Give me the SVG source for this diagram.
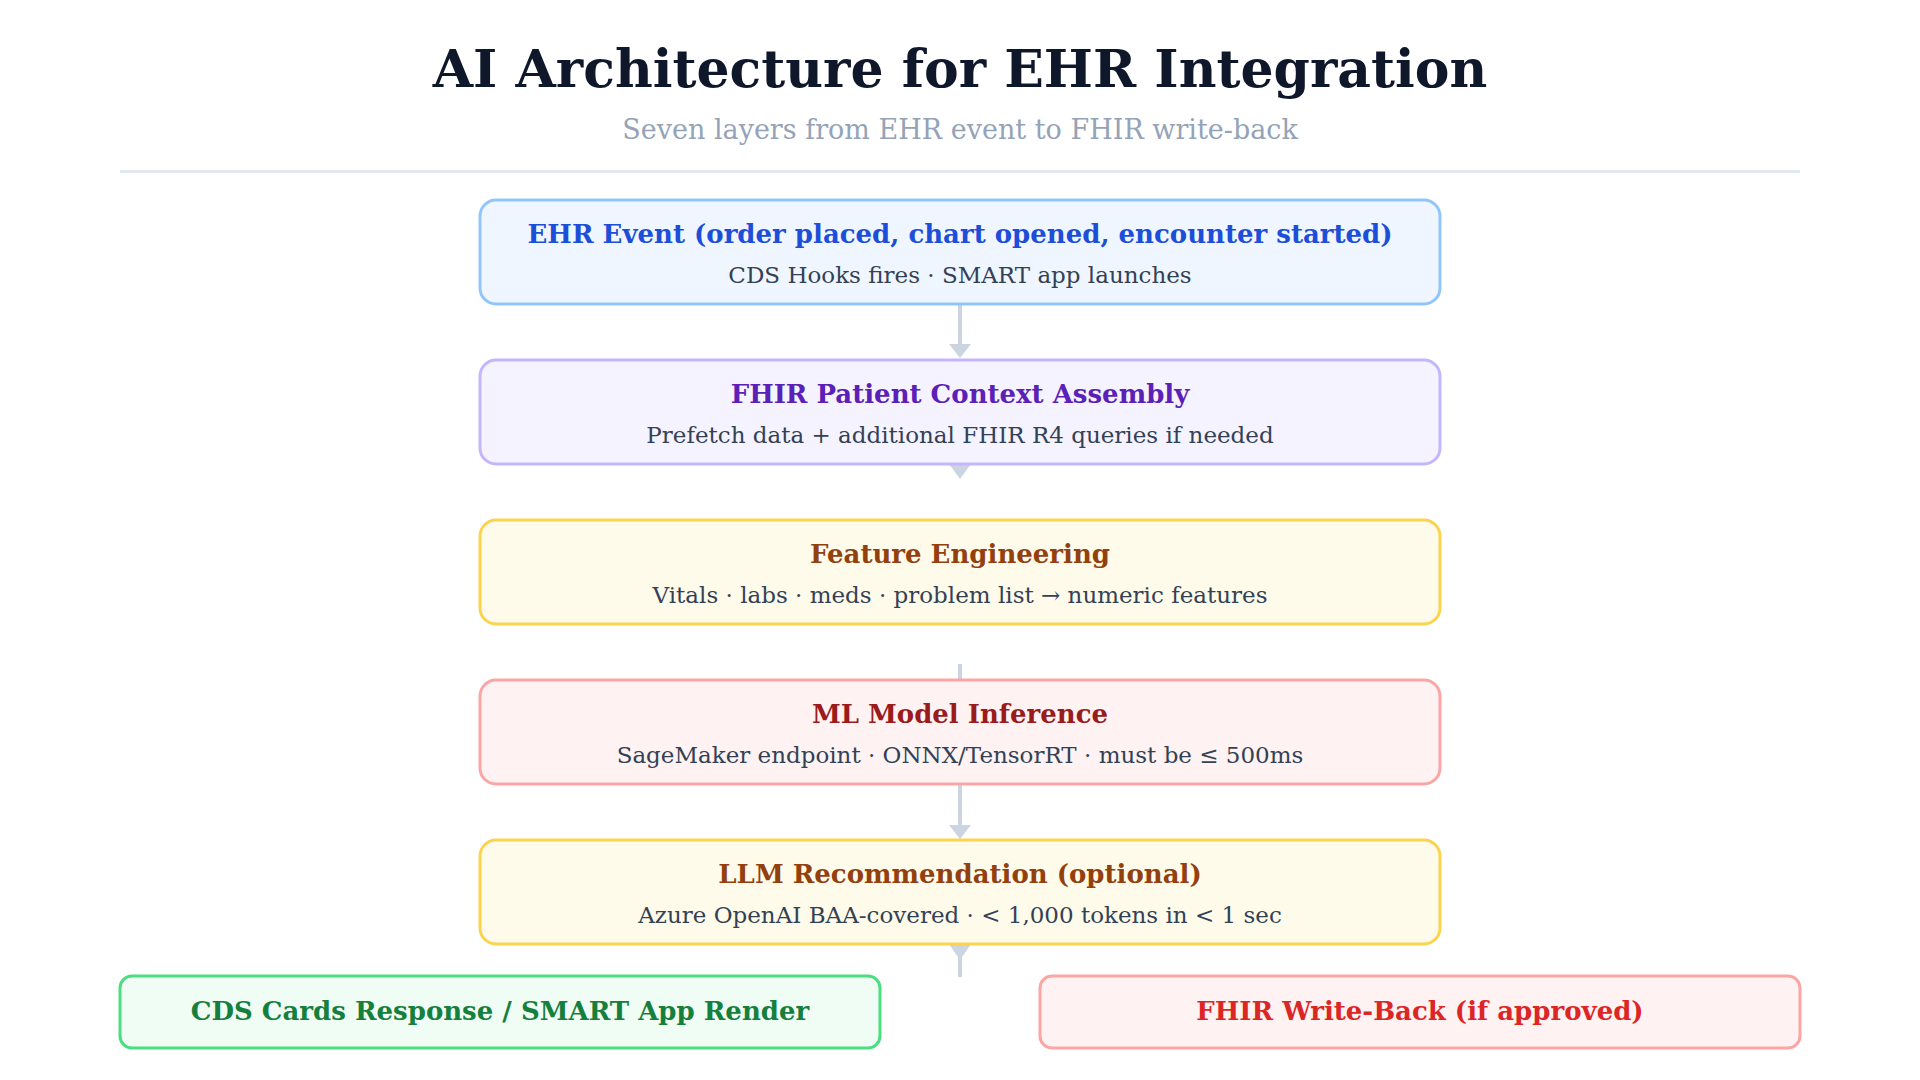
<svg xmlns="http://www.w3.org/2000/svg" width="1920" height="1080" viewBox="0 0 1920 1080">
<style>
.t{font-family:"DejaVu Serif","Liberation Serif",serif;font-weight:bold;font-size:26px;text-anchor:middle}
.s{font-family:"DejaVu Serif","Liberation Serif",serif;font-size:23px;fill:#334155;text-anchor:middle}
.b{stroke-width:3}
.c{stroke:#cbd5e1;stroke-width:4;fill:none}
.h{fill:#cbd5e1}
</style>
<rect width="1920" height="1080" fill="#fff"/>
<text x="960" y="87" font-family="DejaVu Serif,serif" font-weight="bold" font-size="52" fill="#0f172a" text-anchor="middle">AI Architecture for EHR Integration</text>
<text x="960" y="139" font-family="DejaVu Serif,serif" font-size="27" fill="#94a3b8" text-anchor="middle">Seven layers from EHR event to FHIR write-back</text>
<line x1="120" y1="171.500" x2="1800" y2="171.500" stroke="#e2e8f0" stroke-width="3"/>
<g id="connectors">
<line class="c" x1="960" y1="304" x2="960" y2="345"/><polygon class="h" points="949,344 971,344 960,358"/>
<polygon class="h" points="949,464 971,464 960,479"/>
<line class="c" x1="960" y1="664" x2="960" y2="682"/>
<line class="c" x1="960" y1="784" x2="960" y2="826"/><polygon class="h" points="949,825 971,825 960,839"/>
<polygon class="h" points="949,944 971,944 960,960"/><line class="c" x1="960" y1="955" x2="960" y2="977"/>
</g>
<g id="n1"><rect class="b" x="480" y="200" width="960" height="104" rx="16" fill="#eff6ff" stroke="#93c5fd"/>
<text class="t" x="960" y="243" fill="#1d4ed8">EHR Event (order placed, chart opened, encounter started)</text>
<text class="s" x="960" y="283">CDS Hooks fires · SMART app launches</text></g>
<g id="n2"><rect class="b" x="480" y="360" width="960" height="104" rx="16" fill="#f5f3ff" stroke="#c4b5fd"/>
<text class="t" x="960" y="403" fill="#5b21b6">FHIR Patient Context Assembly</text>
<text class="s" x="960" y="443">Prefetch data + additional FHIR R4 queries if needed</text></g>
<g id="n3"><rect class="b" x="480" y="520" width="960" height="104" rx="16" fill="#fefbea" stroke="#fcd34d"/>
<text class="t" x="960" y="563" fill="#92400e">Feature Engineering</text>
<text class="s" x="960" y="603">Vitals · labs · meds · problem list → numeric features</text></g>
<g id="n4"><rect class="b" x="480" y="680" width="960" height="104" rx="16" fill="#fef2f2" stroke="#fca5a5"/>
<text class="t" x="960" y="723" fill="#991b1b">ML Model Inference</text>
<text class="s" x="960" y="763">SageMaker endpoint · ONNX/TensorRT · must be ≤ 500ms</text></g>
<g id="n5"><rect class="b" x="480" y="840" width="960" height="104" rx="16" fill="#fefbea" stroke="#fcd34d"/>
<text class="t" x="960" y="883" fill="#92400e">LLM Recommendation (optional)</text>
<text class="s" x="960" y="923">Azure OpenAI BAA-covered · &lt; 1,000 tokens in &lt; 1 sec</text></g>
<g id="n6"><rect class="b" x="120" y="976" width="760" height="72" rx="12" fill="#f0fdf4" stroke="#4ade80"/>
<text class="t" x="500" y="1020" fill="#15803d">CDS Cards Response / SMART App Render</text></g>
<g id="n7"><rect class="b" x="1040" y="976" width="760" height="72" rx="12" fill="#fef2f2" stroke="#fca5a5"/>
<text class="t" x="1420" y="1020" fill="#dc2626">FHIR Write-Back (if approved)</text></g>
</svg>
